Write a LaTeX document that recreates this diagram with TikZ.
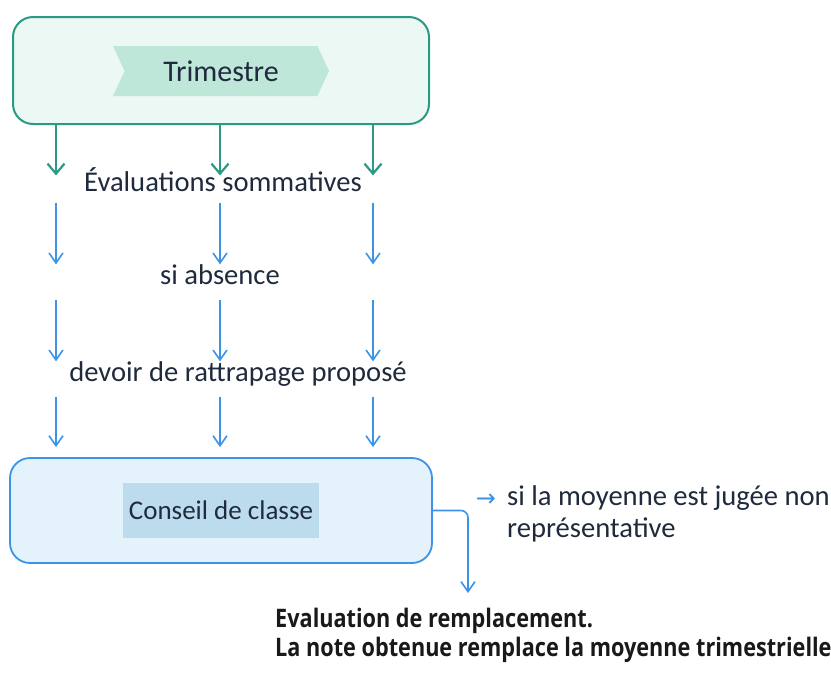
\documentclass[tikz,border=0pt]{standalone}
\usepackage{fontspec}
\setmainfont{Carlito}
\newfontfamily\condbold[FakeStretch=0.85]{Open Sans}
\newfontfamily\glyphfont{DejaVu Sans}
\usetikzlibrary{arrows.meta}
\usetikzlibrary{shapes.symbols}
\definecolor{tealline}{HTML}{2A9A84}
\definecolor{tealfill}{HTML}{ECF8F4}
\definecolor{chevfill}{HTML}{BEE6D9}
\definecolor{blueline}{HTML}{3D93E6}
\definecolor{bluefill}{HTML}{E4F2FC}
\definecolor{innerfill}{HTML}{BCDCEE}
\definecolor{inktext}{HTML}{1F2A3C}
\tikzset{
	topboxstyle/.style={rectangle,rounded corners=20pt,draw=tealline,line width=2pt,fill=tealfill,minimum width=416,minimum height=107},
	chevstyle/.style={signal,signal to=east,signal from=west,signal pointer angle=130,fill=chevfill,minimum width=216,minimum height=50,inner sep=0pt,text=inktext,font=\fontsize{30}{35}\selectfont},
	botboxstyle/.style={rectangle,rounded corners=20pt,draw=blueline,line width=1.8pt,fill=bluefill,minimum width=422,minimum height=105},
	innerstyle/.style={rectangle,fill=innerfill,minimum width=196,minimum height=55,text=inktext,font=\fontsize{27}{32}\selectfont},
	stagestyle/.style={text=inktext,font=\fontsize{28.6}{33}\selectfont,text height=0.75em,text depth=0.2em,inner xsep=0pt},
	notestyle/.style={text=inktext,font=\fontsize{28.6}{33}\selectfont,inner sep=0pt},
	resultstyle/.style={text=black!90,font=\condbold\bfseries\fontsize{25.5}{30}\selectfont,inner sep=0pt},
	greenarrow/.style={draw=tealline,line width=2.2pt,-{Straight Barb[length=10pt,width=17pt]}},
	bluearrow/.style={draw=blueline,line width=1.6pt,-{Straight Barb[length=10pt,width=14pt]}}
}
\begin{document}
\begin{tikzpicture}[x=1pt,y=-1pt]
	\useasboundingbox (0,0) rectangle (831,673);
	% columns of arrows
	\coordinate (c1) at (56,0);
	\coordinate (c2) at (220,0);
	\coordinate (c3) at (373,0);
	\node[topboxstyle] (trim) at (221,70.5) {};
	\node[chevstyle] (chev) at (221,71) {Trimestre};
	\node[stagestyle,inner ysep=8.7pt] (evals) at (223,189) {Évaluations sommatives};
	\node[stagestyle,inner ysep=12.7pt] (absence) at (220,282) {si absence};
	\node[stagestyle,inner ysep=12.7pt] (devoir) at (238,379) {devoir de rattrapage proposé};
	\node[botboxstyle] (cbox) at (221,510.5) {};
	\node[innerstyle] (conseil) at (221,510.5) {Conseil de classe};
	\draw[greenarrow] (trim.south -| c1) -- (evals.north -| c1);
	\draw[greenarrow] (trim.south -| c2) -- (evals.north -| c2);
	\draw[greenarrow] (trim.south -| c3) -- (evals.north -| c3);
	\draw[bluearrow] (evals.south -| c1) -- (absence.north -| c1);
	\draw[bluearrow] (evals.south -| c2) -- (absence.north -| c2);
	\draw[bluearrow] (evals.south -| c3) -- (absence.north -| c3);
	\draw[bluearrow] (absence.south -| c1) -- (devoir.north -| c1);
	\draw[bluearrow] (absence.south -| c2) -- (devoir.north -| c2);
	\draw[bluearrow] (absence.south -| c3) -- (devoir.north -| c3);
	\draw[bluearrow,shorten >=10pt] (devoir.south -| c1) -- (cbox.north -| c1);
	\draw[bluearrow,shorten >=10pt] (devoir.south -| c2) -- (cbox.north -| c2);
	\draw[bluearrow,shorten >=10pt] (devoir.south -| c3) -- (cbox.north -| c3);
	% side note and result
	\node[text=blueline,font=\glyphfont\fontsize{24}{28}\selectfont,inner sep=0pt] (bullet) at (486,500) {→};
	\node[notestyle,anchor=base west] (jugee) at (507,505) {si la moyenne est jugée non};
	\node[notestyle,anchor=base west] (repres) at (507,537) {représentative};
	\coordinate (tip) at (468,593);
	\draw[bluearrow,rounded corners=7pt] (cbox.east) -| (tip);
	\node[resultstyle,anchor=base west] (res1) at (275,627) {Evaluation de remplacement.};
	\node[resultstyle,anchor=base west] (res2) at (275,656) {La note obtenue remplace la moyenne trimestrielle};
\end{tikzpicture}
\end{document}
